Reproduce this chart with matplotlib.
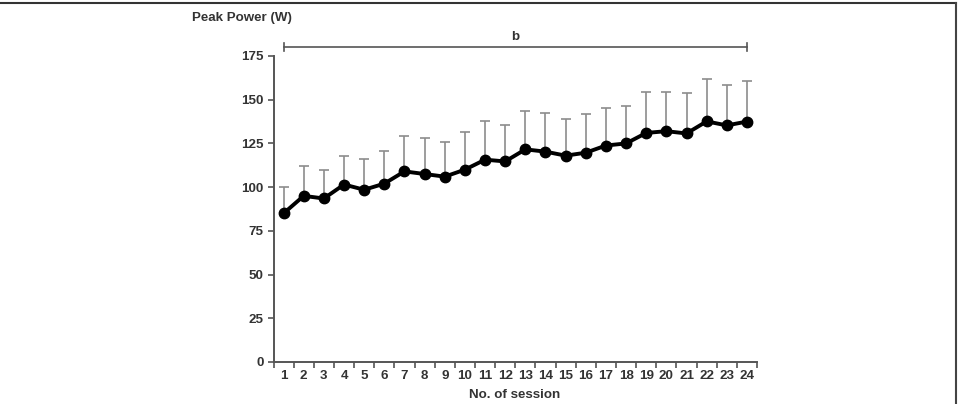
import numpy as np
import matplotlib.pyplot as plt
from matplotlib.lines import Line2D

plt.rcParams['font.family'] = ['Liberation Sans', 'DejaVu Sans']

# data
sessions = list(range(1, 25))
peak_power = [85, 95, 93.5, 101.5, 98.5, 102, 109, 107.5, 106, 110, 115.7, 114.7,
              121.6, 120.3, 118, 119.7, 123.8, 125, 131, 132, 130.7, 137.6, 135.3, 137.5]
sd_top = [100, 112, 110, 118, 116, 120.4, 129.5, 128, 125.8, 131.5, 137.6, 135.5,
          143.7, 142.3, 139, 141.8, 145, 146.4, 154.5, 154.4, 154, 162, 158.6, 160.8]
y_ticks = [0, 25, 50, 75, 100, 125, 150, 175]

sd = np.array(sd_top) - np.array(peak_power)
fs = 9.6

fig = plt.figure(figsize=(9.59, 4.04), dpi=100)
ax = fig.add_axes([0.2852, 0.104, 0.5042, 0.7574])

# error bars (upper only)
ax.errorbar(sessions, peak_power, yerr=[np.zeros(len(sd)), sd], fmt='none',
            ecolor='#8c8c8c', elinewidth=1.2, capsize=3.5, capthick=1.2, zorder=2)
ax.plot(sessions, peak_power, color='black', lw=2.8, marker='o', ms=7.5, zorder=3)

ax.set_xlim(0.5, 24.5)
ax.set_ylim(0, 175)
ax.set_xticks(np.arange(0.5, 25, 1))
ax.set_xticklabels([])
ax.set_xticks(sessions, minor=True)
ax.set_xticklabels([str(s) for s in sessions], minor=True)
ax.tick_params(axis='x', which='minor', length=0, pad=6)
ax.tick_params(axis='x', which='major', length=4, direction='out', color='#555555', width=1.2)
ax.set_yticks(y_ticks)
ax.tick_params(axis='y', length=4, direction='out', color='#555555', width=1.2, pad=3)
for lab in ax.get_xticklabels(minor=True) + ax.get_yticklabels():
    lab.set_fontweight('bold')
    lab.set_fontsize(fs)
    lab.set_color('#333333')

for s in ['top', 'right']:
    ax.spines[s].set_visible(False)
for s in ['left', 'bottom']:
    ax.spines[s].set_color('#555555')
    ax.spines[s].set_linewidth(1.4)

# significance bracket
yb = 180
ax.plot([1, 24], [yb, yb], color='#555555', lw=1.2, clip_on=False)
ax.plot([1, 1], [yb - 2.2, yb + 2.2], color='#555555', lw=1.2, clip_on=False)
ax.plot([24, 24], [yb - 2.2, yb + 2.2], color='#555555', lw=1.2, clip_on=False)
ax.text(12.5, yb + 2.5, 'b', ha='center', va='bottom', fontsize=fs,
        fontweight='bold', color='#333333')

fig.text(192 / 959, 1 - 18 / 404, 'Peak Power (W)', ha='left', va='center',
         fontsize=fs, fontweight='bold', color='#333333')
fig.text(515 / 959, 1 - 395 / 404, 'No. of session', ha='center', va='center',
         fontsize=fs, fontweight='bold', color='#333333')

# outer frame (top and right edges visible)
fig.add_artist(Line2D([0, 0.997], [0.993, 0.993], transform=fig.transFigure,
                      color='#333333', lw=1.5))
fig.add_artist(Line2D([0.997, 0.997], [0, 0.993], transform=fig.transFigure,
                      color='#444444', lw=1.5))

fig.savefig('out.png', dpi=100)
